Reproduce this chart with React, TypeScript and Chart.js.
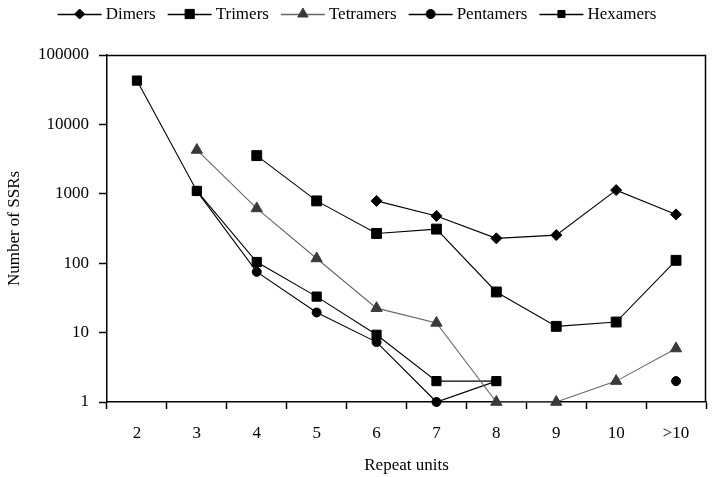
import React, { useEffect, useRef } from 'react';
import { Chart, registerables } from 'chart.js';
import { drawPoint } from 'chart.js/helpers';

Chart.register(...registerables);

const categories = ['2', '3', '4', '5', '6', '7', '8', '9', '10', '>10'];
const dimers = [null, null, null, null, 790, 480, 228, 254, 1130, 505];
const trimers = [null, null, 3550, 790, 268, 310, 38.5, 12.3, 14.2, 110];
const tetramers = [null, 4280, 615, 117, 22.5, 13.8, 1, 1, 2, 5.9];
const pentamers = [null, 1090, 75, 19.5, 7.3, 1, 2, null, null, 2];
const hexamers = [42800, 1100, 104, 33, 9.3, 2, 2, null, null, null];
const yTickValues = [1, 10, 100, 1000, 10000, 100000];

const FONT = "'Liberation Serif', 'Times New Roman', serif";

const frameAndLegend = {
  id: 'frameAndLegend',
  beforeDatasetsDraw(chart: any) {
    const { ctx, chartArea } = chart;
    const { left, top, right, bottom } = chartArea;
    ctx.save();
    ctx.strokeStyle = '#000';
    ctx.lineWidth = 1.5;
    ctx.beginPath();
    ctx.moveTo(left, Math.round(top) + 0.5);
    ctx.lineTo(Math.round(right) - 0.5, Math.round(top) + 0.5);
    ctx.lineTo(Math.round(right) - 0.5, bottom);
    ctx.stroke();
    ctx.restore();
  },
  afterDraw(chart: any) {
    const ctx = chart.ctx;
    ctx.save();
    ctx.font = `17px ${FONT}`;
    ctx.textBaseline = 'middle';
    const datasets = chart.data.datasets;
    const lineW = 44;
    const gap1 = 4;
    const gap2 = 12;
    const widths = datasets.map((d: any) => ctx.measureText(d.label).width);
    let total = 0;
    widths.forEach((w: number) => (total += lineW + gap1 + w));
    total += gap2 * (datasets.length - 1);
    let x = (chart.width - total) / 2;
    const y = 14;
    datasets.forEach((d: any, i: number) => {
      ctx.strokeStyle = d.borderColor;
      ctx.lineWidth = 1.5;
      ctx.beginPath();
      ctx.moveTo(x, y + 0.5);
      ctx.lineTo(x + lineW, y + 0.5);
      ctx.stroke();
      ctx.fillStyle = d.pointBackgroundColor;
      ctx.strokeStyle = d.pointBorderColor;
      ctx.lineWidth = 1;
      drawPoint(ctx, { pointStyle: d.pointStyle, radius: d.legendRadius, rotation: 0, borderWidth: 1 }, x + lineW / 2, y);
      ctx.fillStyle = '#000';
      ctx.textAlign = 'left';
      ctx.fillText(d.label, x + lineW + gap1, y + 1);
      x += lineW + gap1 + widths[i] + gap2;
    });
    ctx.restore();
  },
};

function series(label: string, data: (number | null)[], style: string, radius: number, legendRadius: number, lineColor = '#000', markColor = '#000') {
  return {
    label,
    data,
    pointStyle: style,
    pointRadius: radius,
    pointHoverRadius: radius,
    legendRadius,
    borderColor: lineColor,
    backgroundColor: markColor,
    pointBackgroundColor: markColor,
    pointBorderColor: markColor,
    pointBorderWidth: 1,
    borderWidth: 1.1,
    tension: 0,
    spanGaps: false,
    clip: false,
  };
}

export default function App() {
  const ref = useRef<HTMLCanvasElement>(null);
  useEffect(() => {
    if (!ref.current) return;
    const chart = new Chart(ref.current, {
      type: 'line',
      data: {
        labels: categories,
        datasets: [
          series('Dimers', dimers, 'rectRot', 5.5, 5),
          series('Trimers', trimers, 'rect', 7, 6.5),
          series('Tetramers', tetramers, 'triangle', 6.5, 6, '#666', '#3a3a3a'),
          series('Pentamers', pentamers, 'circle', 4.5, 4.5),
          series('Hexamers', hexamers, 'rect', 6.5, 5),
        ] as any,
      },
      options: {
        animation: false,
        responsive: false,
        layout: { padding: { left: 0, right: 1, top: 55, bottom: 0 } },
        plugins: {
          legend: { display: false },
          tooltip: { enabled: false },
        },
        scales: {
          x: {
            type: 'category',
            offset: true,
            grid: { display: true, offset: true, drawOnChartArea: false, color: '#000', tickLength: 7, tickWidth: 1.5 },
            border: { color: '#000', width: 1.5 },
            ticks: { color: '#000', font: { family: FONT, size: 17 }, padding: 14, maxRotation: 0 },
            title: { display: true, text: 'Repeat units', color: '#000', font: { family: FONT, size: 17 }, padding: { top: 4, bottom: 1 } },
            afterFit: (s: any) => { s.height = 75; },
          },
          y: {
            type: 'logarithmic',
            min: 1,
            max: 100000,
            grid: { display: true, drawOnChartArea: false, color: '#000', tickLength: 8, tickWidth: 1.5 },
            border: { color: '#000', width: 1.5 },
            ticks: { color: '#000', font: { family: FONT, size: 17 }, padding: 10, callback: (v: any) => String(v) },
            afterBuildTicks: (s: any) => { s.ticks = yTickValues.map((v) => ({ value: v })); },
            title: { display: true, text: 'Number of SSRs', color: '#000', font: { family: FONT, size: 17 }, padding: { top: 4, bottom: 0 } },
            afterFit: (s: any) => { s.width = 107; },
          },
        },
      },
      plugins: [frameAndLegend],
    });
    return () => chart.destroy();
  }, []);
  return (
    <div style={{ position: 'absolute', left: 0, top: 0, width: 714, height: 477, background: '#fff' }}>
      <canvas ref={ref} width={714} height={477} />
    </div>
  );
}
